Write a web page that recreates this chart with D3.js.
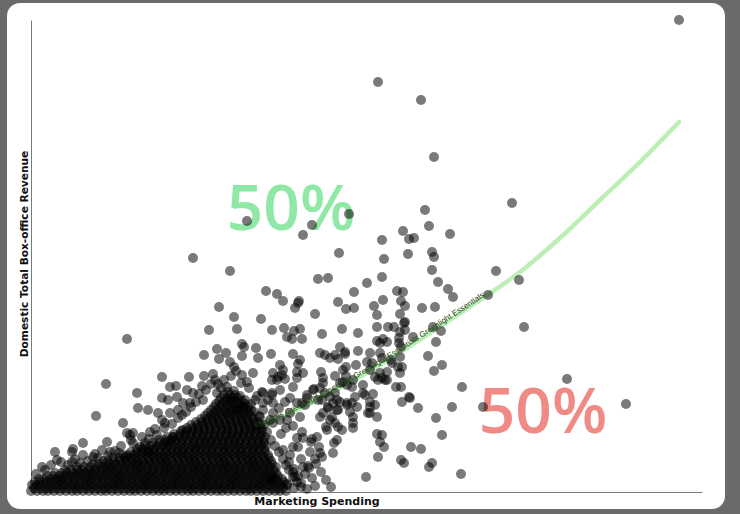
<!DOCTYPE html>
<html><head><meta charset="utf-8">
<script src="https://cdn.jsdelivr.net/npm/d3@7"></script>
<style>
html,body{margin:0;padding:0;background:#6a6a6a;}
svg{display:block}
</style></head><body>
<svg id="chart" width="740" height="514"></svg>
<script>
// Films: [marketing spending, domestic box-office revenue] (arbitrary units, no ticks shown)
const outlierFilms = [
[648,472],[347,410],[390,392],[403,335],[481,289],[394,282],[398,266],[419,258],[372,261],[378,253],[383,254],
[351,252],[401,240],[403,235],[377,238],[353,233],[308,239],[318,278],[281,267],[272,257],[216,271],[162,234],
[199,221],[465,221],[488,212],[493,165],[536,113],[595,88],[431,105],[452,85],[430,18],[96,153],[75,108],[65,76]
];
const midFilms = [
[287,213],[297,214],[235,201],[246,198],[252,191],[268,191],[267,189],[264,184],[307,190],[315,183],[188,185],
[203,175],[230,173],[284,178],[178,162],[206,163],[241,162],[253,164],[263,161],[269,163],[256,155],[261,153],
[271,153],[291,158],[311,163],[211,148],[213,145],[186,143],[195,139],[225,144],[173,137],[188,133],[211,136],
[227,134],[240,138],[262,138],[269,132],[267,128],[289,139],[294,137],[299,134],[307,133],[309,145],[314,138],
[199,130],[203,125],[205,121],[211,117],[222,119],[249,127],[252,122],[242,119],[251,117],[266,120],[272,119],
[290,120],[292,114],[304,116],[312,122],[131,115],[158,115],[173,116],[184,112],[187,108],[145,106],[139,105],
[171,106],[210,109],[216,110],[241,112],[247,115],[254,113],[266,114],[262,105],[292,109],[289,104],[316,107],
[401,222],[407,210],[417,203],[422,195],[457,197],[351,215],[366,201],[372,200],[370,191],[374,186],[391,184],
[404,185],[352,192],[369,178],[373,169],[363,165],[374,162],[402,165],[410,161],[368,154],[382,155],[405,150],
[352,153],[356,150],[397,136],[369,135],[361,129],[371,125],[411,127],[403,121],[356,120],[351,114],[370,105],
[378,95],[371,90],[387,84],[421,85],[405,74],[411,57],[351,57],[353,45],[380,45],[390,43],[370,32],[373,29],
[401,29],[398,25],[346,58],[349,50],[347,35],[335,15],[332,99],[342,98],[344,87],[337,79],[339,85],[324,95],
[321,89],[322,75],[322,69],[322,64],[316,89],[315,116],[309,109],[307,65],[311,62],[295,65],[296,62],[303,49],
[306,52],[302,39],[291,35],[289,39],[277,26],[272,25],[263,23],[267,16],[264,15],[240,11],[242,13],[286,55],
[281,53],[272,54],[266,54],[267,45],[262,45],[259,37],[252,42],[283,103],[276,97],[271,89],[269,75],[259,79],
[249,72],[242,69],[291,92],[299,95],[306,92],[297,84],[306,82],[289,75],[299,72],[304,69],[231,100],[241,99],
[249,102],[242,89],[232,89],[224,92],[349,119],[356,112],[369,119],
[336,209],[323,200],[323,184],[343,186],[346,177],[327,159],[346,165],[357,165],[374,170],[369,160],[346,151],
[349,149],[368,149],[370,145],[349,139],[351,134],[360,132],[367,125],[365,105],[379,94],[314,140],[327,141],
[325,127],[315,125],[304,137],[339,122],[344,115],[347,112],[354,112],[339,139],[336,130],[341,129],[312,110],
[322,112],[321,105],[332,107],[304,99],[302,89],[309,90],[316,87],[334,97],[339,90],[254,90],[259,94],[266,89],
[274,87],[276,94],[282,102],[287,92],[294,99],[297,85],[292,79],[301,75],[307,82],[319,80],[326,85],[339,79],[346,75],
[106,99],[107,84],[117,82],[131,94],[137,92],[146,95],[92,69],[96,59],[99,57],[102,59],[119,60],[114,49],
[127,79],[131,72],[134,69],[139,79],[147,82],[156,102],[162,99],[172,92],[159,89],[152,89],[151,77],[24,40],
[26,32],[11,25],[42,43],[41,40],[52,49],[52,37],[71,42],[76,50],[79,40],[62,35],[67,34],[41,30],[49,29],
[88,39],[96,35],[102,49],[109,45],[117,40],[126,57],[152,62],[142,55],[136,50],[186,99],[196,105],[199,92],
[206,82],[212,85],[232,82],[229,75],[239,72],[242,79],[232,99],[241,97],[246,112],
[258,30],[262,20],[256,8],[263,4],[270,9],[276,3],[281,14],[270,33],[279,40],[285,28],[250,58],[255,64],[284,6]
];
// films sitting on the rim of the dense cluster
const rimFilms = [
[5,18],[14,22],[20,27],[30,30],[37,27],[44,33],[57,31],[64,38],[77,36],[84,41],[90,46],[100,52],[111,55],
[118,53],[124,63],[133,64],[141,68],[147,74],[155,80],[160,85],[165,90],[168,98],[175,102],[180,108],[190,104],
[197,100],[203,101],[209,96],[214,92],[220,88],[223,80],[228,76],[233,67],[236,60],[240,52],[244,46],[248,40],
[252,33],[255,27],[258,22],[262,15],[266,10],[270,5],[274,18],[278,24],[284,33],[290,20],[295,12],[300,5],
[288,45],[280,50],[271,60],[262,66],[256,72],[248,84],[237,92],[226,96],[193,112],[200,116],[182,118],[218,104]
];
// the solid cluster of small films, read row by row (revenue level, then spending of each film)
const denseRevenue = [1,4,7,10,13,16,19,22,25,28,31,34,37,40,43,46,49,52,55,58,61,64,67,70,73,76,79,82,85,88,91,94,97];
const denseSpend = [
[0,6,12,17,23,29,35,41,46,52,58,64,70,75,81,87,93,99,104,110,116,122,128,133,139,145,151,157,162,168,174,180,186,191,197,203,209,215,220,226,232,238,244,249,255],
[3,9,15,20,26,32,38,44,49,55,61,67,73,78,84,90,96,102,107,113,119,125,131,136,142,148,154,160,165,171,177,183,189,194,200,206,212,218,223,229,235,241,247,252],
[1,6,12,18,24,29,35,41,47,53,58,64,70,76,82,87,93,99,105,111,116,122,128,134,140,145,151,157,163,169,174,180,186,192,198,203,209,215,221,227,232,238,244,250,256],
[4,9,15,21,27,32,38,44,50,56,61,67,73,79,85,90,96,102,108,114,119,125,131,137,143,148,154,160,166,172,177,183,189,195,201,206,212,218,224,230,235,241,247,253],
[8,13,19,25,30,36,42,48,54,59,65,71,77,83,88,94,100,106,112,117,123,129,135,141,146,152,158,164,170,175,181,187,193,199,204,210,216,222,228,233,239,245,251],
[16,22,28,33,39,45,51,57,62,68,74,80,86,91,97,103,109,115,120,126,132,138,144,149,155,161,167,173,178,184,190,196,202,207,213,219,225,231,236,242,247],
[24,31,36,42,48,54,60,65,71,77,83,89,94,100,106,112,118,123,129,135,141,147,152,158,164,170,176,181,187,193,199,205,210,216,222,228,234,239,245],
[34,40,46,51,57,63,69,75,80,86,92,98,104,109,115,121,127,133,138,144,150,156,162,167,173,179,185,191,196,202,208,214,220,225,231,237,243],
[46,53,59,65,71,77,82,88,94,100,106,111,117,123,129,135,140,146,152,158,164,169,175,181,187,193,198,204,210,216,222,227,233,239,245],
[62,68,74,79,85,91,97,103,108,114,120,126,132,137,143,149,155,161,166,172,178,184,190,195,201,207,213,219,224,230,236,241],
[72,77,83,89,95,101,106,112,118,124,130,135,141,147,153,159,164,170,176,182,188,193,199,205,211,217,222,228,234,240],
[82,88,94,100,105,111,117,123,129,134,140,146,152,158,163,169,175,181,187,192,198,204,210,216,221,227,233,238],
[92,97,103,109,115,121,126,132,138,144,150,155,161,167,173,179,184,190,196,202,208,213,219,225,231,237],
[100,106,112,118,123,129,135,141,147,152,158,164,170,176,181,187,193,199,205,210,216,222,228,234],
[106,111,117,123,129,135,140,146,152,158,164,169,175,181,187,193,198,204,210,216,222,227,233],
[114,120,126,132,137,143,149,155,161,166,172,178,184,190,195,201,207,213,219,224,230,235],
[122,128,134,140,146,151,157,163,169,175,180,186,192,198,204,209,215,221,227,233],
[128,134,140,145,151,157,163,169,174,180,186,192,198,203,209,215,221,227,232],
[136,142,148,154,160,165,171,177,183,189,194,200,206,212,218,223,229,234],
[143,149,154,160,166,172,178,183,189,195,201,207,212,218,224,230],
[150,156,162,168,173,179,185,191,197,202,208,214,220,226,231],
[156,162,167,173,179,185,191,196,202,208,214,220,225,230],
[160,166,172,178,184,189,195,201,207,213,218,224,229],
[165,171,176,182,188,194,200,205,211,217,223,227],
[170,176,182,187,193,199,205,211,216,222],
[174,180,185,191,197,203,209,214,220],
[177,183,189,195,200,206,212,218],
[180,186,192,198,203,209,215,220],
[183,189,195,200,206,212,217],
[185,191,197,203,208,214],
[188,194,200,205,211],
[190,196,202,207],
[193,199,204]
];
// fitted trend curve
const trendSpend   = [0, 69, 129, 189, 252, 299, 349, 399, 449, 489, 529, 569, 609, 648];
const trendRevenue = [8, 22, 34, 52, 75, 99, 127, 159, 192, 220, 254, 292, 330, 370];
const trendLabel = "ssentials Greenlight Essentials Greenlight Essentials Greenlight Essentials";
const xTitle = "Marketing Spending";
const yTitle = "Domestic Total Box-office Revenue";
const shareText = ["50%", "50%"];
const shareSpend = [260, 512];
const shareRevenue = [262, 59];
const shareColor = ["#8fe8a6", "#ef8a85"];

const svg = d3.select("#chart");
svg.append("rect").attr("x",7).attr("y",3).attr("width",718).attr("height",506)
   .attr("rx",13).attr("fill","#ffffff");

const x = d3.scaleLinear().domain([0,671]).range([31,702]);
const y = d3.scaleLinear().domain([0,472]).range([492,20]);

// axes (no ticks)
const xa = svg.append("g").attr("transform","translate(0,492)")
  .call(d3.axisBottom(x).ticks(0).tickSize(0).tickSizeOuter(0));
const ya = svg.append("g").attr("transform","translate(31,0)")
  .call(d3.axisLeft(y).ticks(0).tickSize(0).tickSizeOuter(0));
xa.select(".domain").attr("stroke","#7a7a7a");
ya.select(".domain").attr("stroke","#7a7a7a");

svg.append("text").attr("x",x(286)).attr("y",505).attr("text-anchor","middle")
  .attr("font-family","DejaVu Sans").attr("font-weight","bold").attr("font-size",11)
  .attr("fill","#111").text(xTitle);
svg.append("text").attr("transform",`translate(28,${y(238)}) rotate(-90)`).attr("text-anchor","middle")
  .attr("font-family","DejaVu Sans").attr("font-weight","bold").attr("font-size",10.6)
  .attr("fill","#111").text(yTitle);

// big share labels (under points)
const shares = shareText.map((t,i)=>({text:t, s:shareSpend[i], r:shareRevenue[i], c:shareColor[i]}));
svg.selectAll("text.share").data(shares).join("text").attr("class","share")
  .attr("x",d=>x(d.s)).attr("y",d=>y(d.r)).attr("text-anchor","middle")
  .attr("font-family","Open Sans, Liberation Sans, sans-serif").attr("font-weight",600).attr("font-size",64)
  .attr("fill",d=>d.c).text(d=>d.text);

// trend line
const trend = trendSpend.map((s,i)=>[s,trendRevenue[i]]);
const line = d3.line().x(d=>x(d[0])).y(d=>y(d[1])).curve(d3.curveMonotoneX);
const tpath = svg.append("path").attr("id","trendPath").attr("d",line(trend))
  .attr("fill","none").attr("stroke","#bdeeb5").attr("stroke-width",4.5).attr("stroke-linecap","round");

// points
const denseFilms = [];
denseSpend.forEach((row,i)=>row.forEach(s=>denseFilms.push([s, denseRevenue[i]])));
const films = denseFilms.concat(rimFilms, midFilms, outlierFilms);
svg.append("g").selectAll("circle").data(films).join("circle")
  .attr("cx",d=>x(d[0])).attr("cy",d=>y(d[1])).attr("r",5)
  .attr("fill","#000").attr("fill-opacity",0.52);

// label along trend
const node = tpath.node();
const L = node.getTotalLength();
let lo=0, hi=L;
const targetX = x(454);
for(let i=0;i<40;i++){const m=(lo+hi)/2; if(node.getPointAtLength(m).x<targetX) lo=m; else hi=m;}
svg.append("text").attr("font-family","Liberation Sans, Arial, sans-serif").attr("font-size",8)
  .attr("fill","#1d4713").attr("dy",-0.5)
  .append("textPath").attr("href","#trendPath").attr("startOffset",lo).attr("text-anchor","end")
  .text(trendLabel);
</script>
</body></html>
